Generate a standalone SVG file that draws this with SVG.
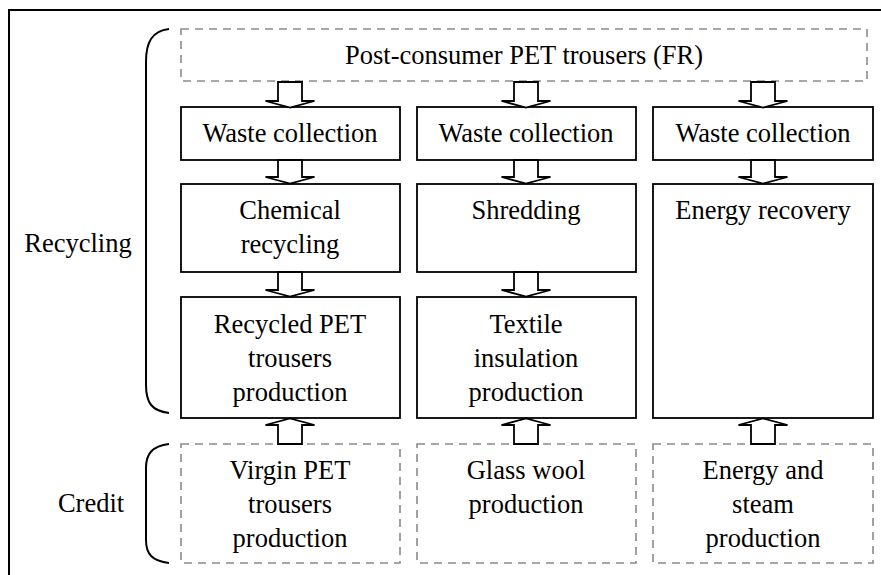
<svg xmlns="http://www.w3.org/2000/svg" width="881" height="575" viewBox="0 0 881 575" font-family="'Liberation Serif', 'Times New Roman', 'DejaVu Serif', serif">
<style>
.box{fill:#fff;stroke:#000;stroke-width:1.8}
.dbox{fill:#fff;stroke:#8a8a8a;stroke-width:1.6;stroke-dasharray:8 6}
.arr{fill:#fff;stroke:#000;stroke-width:1.8;stroke-linejoin:miter}
.brace{fill:none;stroke:#000;stroke-width:2}
.t{font-family:'Liberation Serif','Times New Roman','DejaVu Serif',serif;font-size:26.5px;fill:#000;text-anchor:middle}
</style>
<rect x="0" y="0" width="881" height="575" fill="#fff"/>
<rect id="frame" x="9" y="10" width="900" height="600" fill="none" stroke="#000" stroke-width="2"/>

<g id="label-recycling">
<path class="brace" d="M169,29 C152,31 146,42 146,62 L146,385 C146,403 152,411 169,413"/>
<text class="t" x="78" y="252">Recycling</text>
</g>
<g id="label-credit">
<path class="brace" d="M169,444 C152,446 146,454 146,468 L146,540 C146,554 152,561 169,563"/>
<text class="t" x="91" y="512">Credit</text>
</g>

<g id="n-post">
<rect class="dbox" x="181" y="29" width="686" height="52"/>
<text class="t" x="524" y="64">Post-consumer PET trousers (FR)</text>
</g>

<g id="n-wc1"><rect class="box" x="181" y="107" width="219" height="53"/><text class="t" x="290" y="142">Waste collection</text></g>
<g id="n-wc2"><rect class="box" x="417" y="107" width="219" height="53"/><text class="t" x="526" y="142">Waste collection</text></g>
<g id="n-wc3"><rect class="box" x="653" y="107" width="220" height="53"/><text class="t" x="763" y="142">Waste collection</text></g>

<g id="n-chem"><rect class="box" x="181" y="184" width="219" height="88"/><text class="t" x="290" y="219">Chemical</text><text class="t" x="290" y="253">recycling</text></g>
<g id="n-shred"><rect class="box" x="417" y="184" width="219" height="88"/><text class="t" x="526" y="219">Shredding</text></g>
<g id="n-energy"><rect class="box" x="653" y="184" width="220" height="234"/><text class="t" x="763" y="219">Energy recovery</text></g>

<g id="n-rpet"><rect class="box" x="181" y="297" width="219" height="121"/><text class="t" x="290" y="333">Recycled PET</text><text class="t" x="290" y="367">trousers</text><text class="t" x="290" y="401">production</text></g>
<g id="n-textile"><rect class="box" x="417" y="297" width="219" height="121"/><text class="t" x="526" y="333">Textile</text><text class="t" x="526" y="367">insulation</text><text class="t" x="526" y="401">production</text></g>

<g id="n-virgin"><rect class="dbox" x="181" y="444" width="219" height="119"/><text class="t" x="290" y="479">Virgin PET</text><text class="t" x="290" y="513">trousers</text><text class="t" x="290" y="547">production</text></g>
<g id="n-glass"><rect class="dbox" x="417" y="444" width="219" height="119"/><text class="t" x="526" y="479">Glass wool</text><text class="t" x="526" y="513">production</text></g>
<g id="n-steam"><rect class="dbox" x="653" y="444" width="220" height="119"/><text class="t" x="763" y="479">Energy and</text><text class="t" x="763" y="513">steam</text><text class="t" x="763" y="547">production</text></g>

<g id="connectors">
<polygon class="arr" points="278,82 302,82 302,101 314.5,101 290,107.5 265.5,101 278,101"/>
<polygon class="arr" points="514,82 538,82 538,101 550.5,101 526,107.5 501.5,101 514,101"/>
<polygon class="arr" points="751,82 775,82 775,101 787.5,101 763,107.5 738.5,101 751,101"/>

<polygon class="arr" points="278,160 302,160 302,177 314.5,177 290,183.5 265.5,177 278,177"/>
<polygon class="arr" points="514,160 538,160 538,177 550.5,177 526,183.5 501.5,177 514,177"/>
<polygon class="arr" points="751,160 775,160 775,177 787.5,177 763,183.5 738.5,177 751,177"/>

<polygon class="arr" points="278,272 302,272 302,290 314.5,290 290,296.5 265.5,290 278,290"/>
<polygon class="arr" points="514,272 538,272 538,290 550.5,290 526,296.5 501.5,290 514,290"/>

<polygon class="arr" points="278,444 302,444 302,425 314.5,425 290,418.5 265.5,425 278,425"/>
<polygon class="arr" points="514,444 538,444 538,425 550.5,425 526,418.5 501.5,425 514,425"/>
<polygon class="arr" points="751,444 775,444 775,425 787.5,425 763,418.5 738.5,425 751,425"/>
</g>
</svg>
